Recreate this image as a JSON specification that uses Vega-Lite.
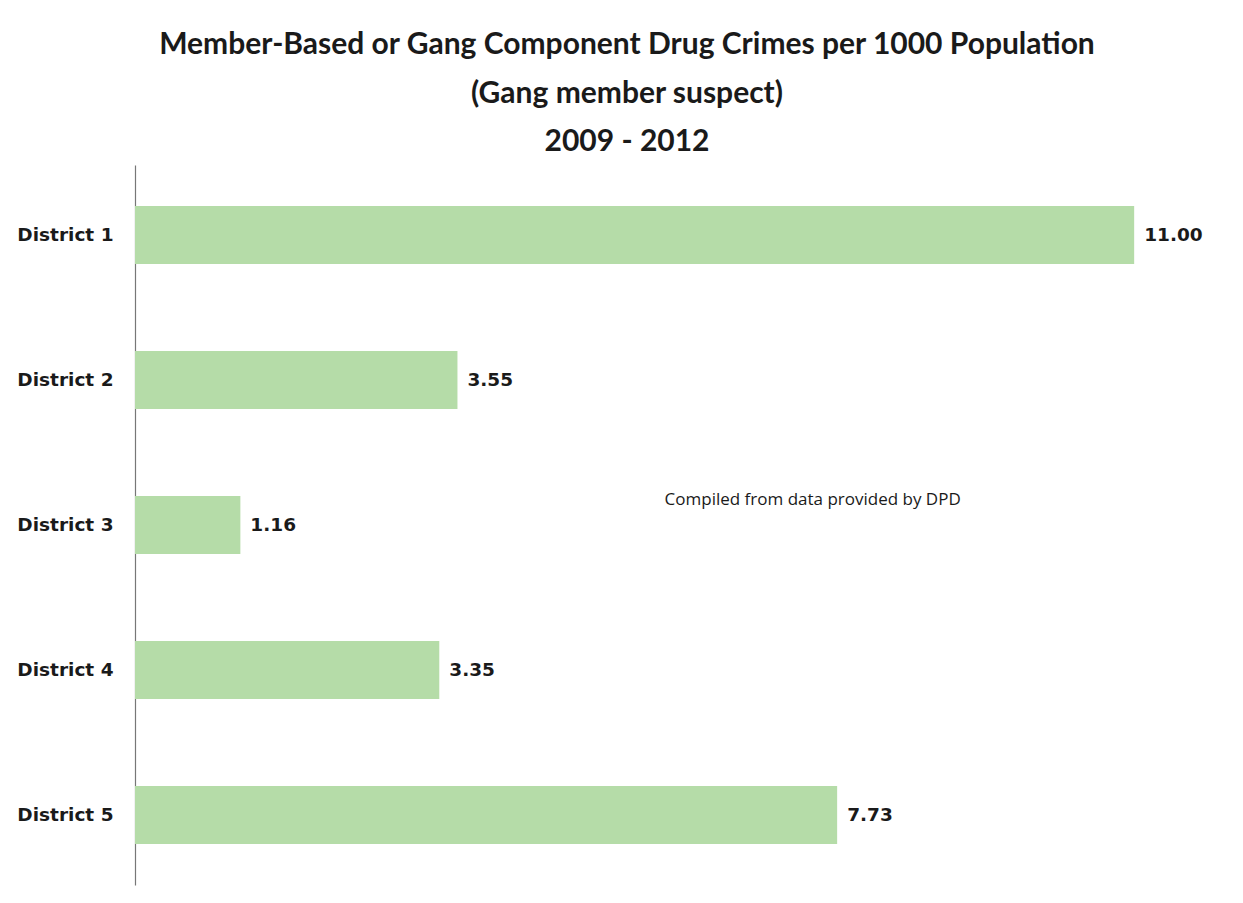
{
  "$schema": "https://vega.github.io/schema/vega-lite/v6.json",
  "autosize": "none",
  "width": 1090,
  "height": 720,
  "padding": {"left": 135, "top": 165, "right": 18, "bottom": 18},
  "background": "white",
  "config": {"view": {"stroke": null}},
  "title": {
    "text": ["Member-Based or Gang Component Drug Crimes per 1000 Population", "(Gang member suspect)", "2009 - 2012"],
    "font": "Lato",
    "fontSize": 30,
    "fontWeight": "bold",
    "color": "#1a1a1a",
    "lineHeight": 48.5,
    "anchor": "middle",
    "dx": -53,
    "offset": 8
  },
  "datasets": {
    "bars": [
      {"district": "District 1", "value": 11.00, "label": "11.00"},
      {"district": "District 2", "value": 3.55, "label": "3.55"},
      {"district": "District 3", "value": 1.16, "label": "1.16"},
      {"district": "District 4", "value": 3.35, "label": "3.35"},
      {"district": "District 5", "value": 7.73, "label": "7.73"}
    ],
    "note": [
      {"district": "District 3", "value": 5.83, "text": "Compiled from data provided by DPD"}
    ]
  },
  "layer": [
    {
      "data": {"name": "bars"},
      "mark": {"type": "bar", "color": "#b5dca8"},
      "encoding": {
        "y": {
          "field": "district", "type": "nominal", "sort": null,
          "scale": {"paddingInner": 0.6, "paddingOuter": 0.283},
          "axis": {
            "title": null, "ticks": false, "labelPadding": 22,
            "labelFont": "DejaVu Sans", "labelFontWeight": "bold", "labelFontSize": 18.5,
            "labelColor": "#1a1a1a", "domainColor": "#777777", "domainWidth": 1.2
          }
        },
        "x": {
          "field": "value", "type": "quantitative",
          "scale": {"domain": [0, 12], "nice": false},
          "axis": null
        }
      }
    },
    {
      "data": {"name": "bars"},
      "mark": {"type": "text", "align": "left", "dx": 10, "font": "DejaVu Sans", "fontWeight": "bold", "fontSize": 18.5, "color": "#1a1a1a"},
      "encoding": {
        "y": {"field": "district", "type": "nominal", "sort": null},
        "x": {"field": "value", "type": "quantitative"},
        "text": {"field": "label"}
      }
    },
    {
      "data": {"name": "note"},
      "mark": {"type": "text", "align": "left", "dy": -25, "font": "Open Sans", "fontSize": 17, "color": "#1a1a1a"},
      "encoding": {
        "y": {"field": "district", "type": "nominal", "sort": null},
        "x": {"field": "value", "type": "quantitative"},
        "text": {"field": "text"}
      }
    }
  ]
}
